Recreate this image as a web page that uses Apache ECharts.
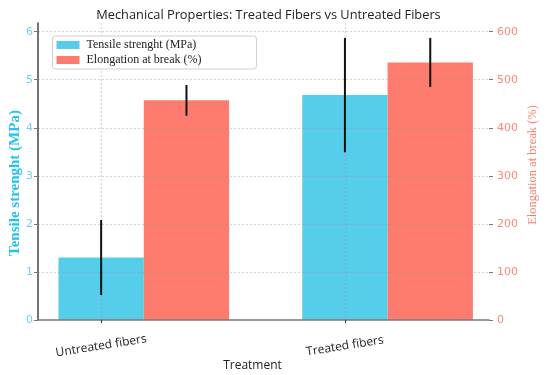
<!DOCTYPE html>
<html><head><meta charset="utf-8">
<script src="https://cdn.jsdelivr.net/npm/echarts@6/dist/echarts.min.js"></script>
<style>html,body{margin:0;padding:0;background:#fff}#c{width:550px;height:375px}</style>
</head><body><div id="c"></div>
<script>
const categories = ['Untreated fibers', 'Treated fibers'];
const tensile = [1.30, 4.68];
const tensileErr = [0.78, 1.19];
const elongation = [457, 536];
const elongationErr = [32, 51];
const leftTicks = [0, 1, 2, 3, 4, 5, 6];
const rightTicks = [0, 100, 200, 300, 400, 500, 600];

const BAR_W = 0.35;
const BLUE = '#56CDEB';
const RED = '#FD7C6D';
const GRID_LINE = {show: true, lineStyle: {color: 'rgba(150,150,150,0.4)', width: 1.2, type: [2, 2]}};

function barRender(offset, color) {
  return function (params, api) {
    const x = api.value(0) + offset;
    const v = api.value(1);
    const p0 = api.coord([x - BAR_W / 2, v]);
    const p1 = api.coord([x + BAR_W / 2, 0]);
    return {type: 'rect', shape: {x: p0[0], y: p0[1], width: p1[0] - p0[0], height: p1[1] - p0[1]}, style: {fill: color}};
  };
}
function errRender(offset) {
  return function (params, api) {
    const x = api.value(0) + offset;
    const v = api.value(1), e = api.value(2);
    const a = api.coord([x, v - e]);
    const b = api.coord([x, v + e]);
    return {type: 'line', shape: {x1: a[0], y1: a[1], x2: b[0], y2: b[1]}, style: {stroke: '#111', lineWidth: 2}};
  };
}

const chart = echarts.init(document.getElementById('c'), null, {renderer: 'canvas'});
chart.setOption({
  animation: false,
  backgroundColor: '#fff',
  title: {
    text: 'Mechanical Properties: Treated Fibers vs Untreated Fibers',
    left: 263.5, textAlign: 'center', top: 4,
    textStyle: {fontFamily: 'Open Sans', fontSize: 12.8, fontWeight: 'normal', color: '#222'}
  },
  legend: {
    orient: 'vertical', left: 52.5, top: 36,
    data: ['Tensile strenght (MPa)', 'Elongation at break (%)'],
    icon: 'rect', itemWidth: 23, itemHeight: 8, itemGap: 3,
    padding: [3, 55, 3, 4],
    backgroundColor: 'rgba(255,255,255,0.85)', borderColor: '#d0d0d0', borderWidth: 1, borderRadius: 3,
    textStyle: {fontFamily: 'Liberation Serif', fontSize: 12, color: '#222', padding: [0, 0, 0, 2]}
  },
  grid: {left: 38, right: 61, top: 23, bottom: 55, containLabel: false, outerBoundsMode: 'none'},
  xAxis: {
    type: 'value', min: -0.259, max: 1.591,
    axisLine: {show: true, onZero: false, lineStyle: {color: '#7a7a7a', width: 1.5}},
    axisTick: {show: true, customValues: [0, 1], length: 3, lineStyle: {color: '#333'}},
    axisLabel: {
      customValues: [0, 1], formatter: v => categories[Math.round(v)],
      rotate: 9, align: 'center', verticalAlign: 'middle', margin: 26,
      fontFamily: 'Open Sans', fontSize: 12, color: '#222'
    },
    splitLine: GRID_LINE,
    name: 'Treatment', nameLocation: 'middle', nameGap: 40, nameMoveOverlap: false,
    nameTextStyle: {fontFamily: 'Open Sans', fontSize: 12, color: '#222', padding: [0, 22, 0, 0]}
  },
  yAxis: [{
    type: 'value', min: 0, max: 6.18, position: 'left',
    axisLine: {show: true, onZero: false, lineStyle: {color: '#444', width: 1.5}},
    axisTick: {show: true, customValues: leftTicks, length: 4, lineStyle: {color: '#777'}},
    axisLabel: {customValues: leftTicks, fontFamily: 'DejaVu Sans', fontSize: 11, color: '#74CFEF', margin: 5},
    splitLine: Object.assign({showMinLine: false}, GRID_LINE),
    name: 'Tensile strenght (MPa)', nameLocation: 'middle', nameRotate: 90, nameGap: 15, nameMoveOverlap: false,
    nameTextStyle: {fontFamily: 'Liberation Serif', fontSize: 15, fontWeight: 'bold', color: '#25C2F0', padding: [0, 23, 0, 0]}
  }, {
    type: 'value', min: 0, max: 618, position: 'right',
    axisLine: {show: false, onZero: false},
    axisTick: {show: true, customValues: rightTicks, length: 4, lineStyle: {color: '#777'}},
    axisLabel: {customValues: rightTicks, fontFamily: 'DejaVu Sans', fontSize: 11, color: '#F98A7C', margin: 8},
    splitLine: {show: false},
    name: 'Elongation at break (%)', nameLocation: 'middle', nameRotate: 90, nameGap: 37, nameMoveOverlap: false,
    nameTextStyle: {fontFamily: 'Liberation Serif', fontSize: 12.5, color: '#F98070', padding: [0, 0, 0, 13]}
  }],
  series: [{
    name: 'Tensile strenght (MPa)', type: 'custom', z: -1,
    xAxisIndex: 0, yAxisIndex: 0,
    itemStyle: {color: BLUE},
    renderItem: barRender(0, BLUE),
    encode: {x: 0, y: 1},
    data: tensile.map((v, i) => [i, v])
  }, {
    name: 'Elongation at break (%)', type: 'custom', z: -1,
    xAxisIndex: 0, yAxisIndex: 1,
    itemStyle: {color: RED},
    renderItem: barRender(BAR_W, RED),
    encode: {x: 0, y: 1},
    data: elongation.map((v, i) => [i, v])
  }, {
    name: 'tensileErr', type: 'custom', z: 5,
    xAxisIndex: 0, yAxisIndex: 0,
    renderItem: errRender(0),
    encode: {x: 0, y: 1},
    data: tensile.map((v, i) => [i, v, tensileErr[i]])
  }, {
    name: 'elongationErr', type: 'custom', z: 5,
    xAxisIndex: 0, yAxisIndex: 1,
    renderItem: errRender(BAR_W),
    encode: {x: 0, y: 1},
    data: elongation.map((v, i) => [i, v, elongationErr[i]])
  }]
});
</script>
</body></html>
